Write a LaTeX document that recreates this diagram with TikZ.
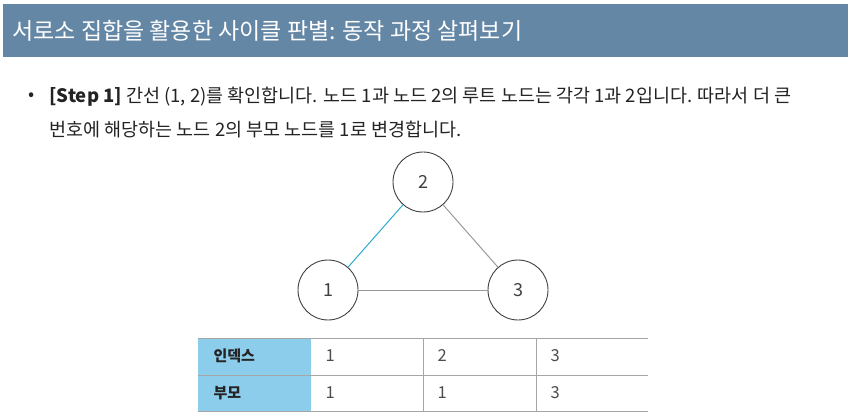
\documentclass[tikz,border=0pt]{standalone}
\usepackage{fontspec}
\setmainfont{Noto Sans CJK KR}
\definecolor{headblue}{RGB}{101,135,166}
\definecolor{edgeblue}{RGB}{45,170,210}
\definecolor{cellblue}{RGB}{140,205,235}
\definecolor{bodytext}{RGB}{35,35,35}
\begin{document}
\begin{tikzpicture}[x=1pt, y=-1pt,
    vertex/.style = {draw=black!75, circle, minimum size=60pt, line width=0.9pt, font=\fontsize{18}{18}\selectfont, text=black!75},
    link/.style = {draw=black!40, line width=1pt},
    cell/.style = {anchor=west, font=\fontsize{16.5}{16.5}\selectfont, text=black!70},
    head/.style = {anchor=west, font=\fontsize{15}{15}\selectfont\bfseries, text=bodytext},
    rule/.style = {draw=black!35, line width=0.8pt}]

  \useasboundingbox (0,0) rectangle (850,419);

  % header band
  \fill[headblue] (3,4) rectangle (848,57);
  \node[anchor=west, text=white, font=\fontsize{23}{23}\selectfont] (title) at (9,31) {서로소 집합을 활용한 사이클 판별: 동작 과정 살펴보기};

  % text
  \node[text=bodytext, font=\fontsize{18}{18}\selectfont] (dot) at (32,97) {•};
  \node[anchor=west, text=bodytext, font=\fontsize{18.5}{18.5}\selectfont] (line1) at (46,97) {\textbf{[Step 1]} 간선 (1, 2)를 확인합니다. 노드 1과 노드 2의 루트 노드는 각각 1과 2입니다. 따라서 더 큰};
  \node[anchor=west, text=bodytext, font=\fontsize{18.5}{18.5}\selectfont] (line2) at (46,130) {번호에 해당하는 노드 2의 부모 노드를 1로 변경합니다.};

  % graph
  \node[vertex] (n2) at (423,182) {2};
  \node[vertex] (n1) at (328,290) {1};
  \node[vertex] (n3) at (518,290) {3};
  \draw[link, draw=edgeblue] (n1) -- (n2);
  \draw[link] (n2) -- (n3);
  \draw[link] (n1) -- (n3);

  % table
  \fill[cellblue] (198,338) rectangle (311,411);
  \draw[rule] (198,338) -- (648,338);
  \draw[rule] (198,375) -- (648,375);
  \draw[rule] (198,411) -- (648,411);
  \draw[rule] (423,338) -- (423,411);
  \draw[rule] (536,338) -- (536,411);
  \node[head] (idx) at (210,356) {인덱스};
  \node[head] (par) at (210,393) {부모};
  \node[cell] (i1) at (322,356) {1};
  \node[cell] (i2) at (434,356) {2};
  \node[cell] (i3) at (547,356) {3};
  \node[cell] (p1) at (322,393) {1};
  \node[cell] (p2) at (434,393) {1};
  \node[cell] (p3) at (547,393) {3};
\end{tikzpicture}
\end{document}
